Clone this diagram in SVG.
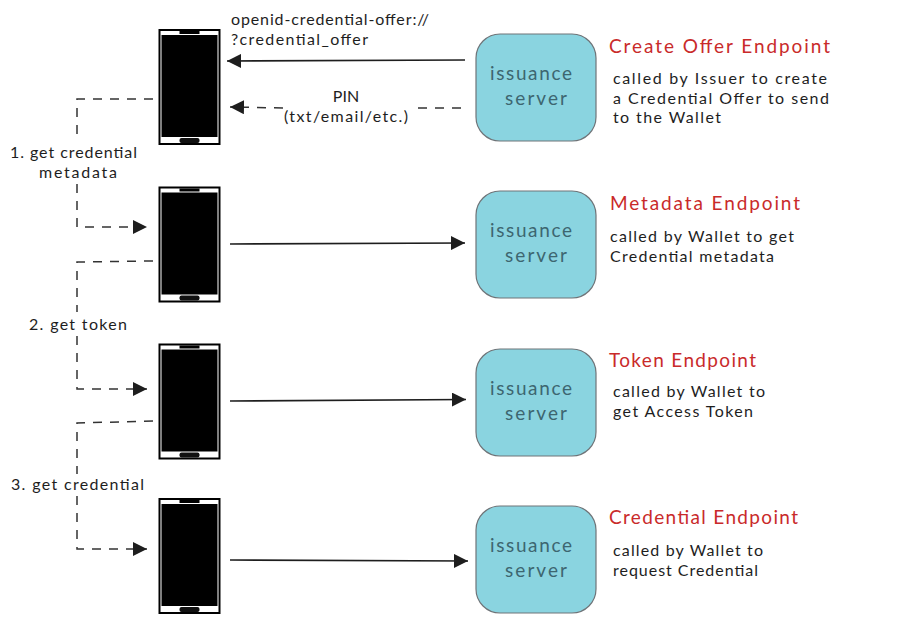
<svg xmlns="http://www.w3.org/2000/svg" width="923" height="623" viewBox="0 0 923 623">
<style>
text{font-family:"Lato","Liberation Sans",sans-serif;font-size:16px;fill:#1e1e1e}
.t{fill:#c92a2a;font-size:19px}
.s{fill:#3d6670;font-size:19px;text-anchor:middle}
.m{text-anchor:middle}
.box{fill:#8ad4e0;stroke:#6f7478;stroke-width:1.2}
.solid{fill:none;stroke:#1e1e1e;stroke-width:1.6}
.dash{fill:none;stroke:#333;stroke-width:1.5;stroke-dasharray:9 8}
.ph{fill:#fff;stroke:#000;stroke-width:2}
</style>
<defs>
<marker id="a" viewBox="0 0 14 14" refX="14" refY="7" markerWidth="14" markerHeight="14" markerUnits="userSpaceOnUse" orient="auto"><path d="M0 0L14 7L0 14Z" fill="#1e1e1e"/></marker>
<g id="phone">
<rect class="ph" x="0" y="0" width="60" height="114"/>
<rect x="2" y="5" width="56" height="102" fill="#000"/>
<rect x="20" y="1" width="20" height="3" fill="#000"/>
<rect x="20" y="108" width="20" height="5" rx="2" fill="#111"/>
</g>
<g id="server">
<rect class="box" x="0" y="0" width="120" height="107" rx="24"/>
<text class="s" x="55" y="46" textLength="82" lengthAdjust="spacing">issuance</text>
<text class="s" x="60" y="71" textLength="62" lengthAdjust="spacing">server</text>
</g>
</defs>

<g id="connectors">
<path class="solid" d="M465 60L227 61" marker-end="url(#a)"/>
<path class="dash" d="M283 108L230 107" marker-end="url(#a)"/>
<path class="dash" d="M461 108L410 108"/>
<path class="solid" d="M230 244L465 243" marker-end="url(#a)"/>
<path class="solid" d="M230 401L466 399.500" marker-end="url(#a)"/>
<path class="solid" d="M230 560L468 561" marker-end="url(#a)"/>
<path class="dash" d="M153 99L77 99V141"/>
<path class="dash" d="M77 184V227H147" marker-end="url(#a)"/>
<path class="dash" d="M153 261L77 262V312"/>
<path class="dash" d="M77 336V389H147" marker-end="url(#a)"/>
<path class="dash" d="M153 421L77 423V474"/>
<path class="dash" d="M77 496V549H147" marker-end="url(#a)"/>
</g>

<g id="phone1"><use href="#phone" x="159.500" y="30"/></g>
<g id="phone2"><use href="#phone" x="159.500" y="187.500"/></g>
<g id="phone3"><use href="#phone" x="159.500" y="344.500"/></g>
<g id="phone4"><use href="#phone" x="159.500" y="499"/></g>

<g id="server1"><use href="#server" x="476" y="34"/></g>
<g id="server2"><use href="#server" x="476" y="191"/></g>
<g id="server3"><use href="#server" x="476" y="349"/></g>
<g id="server4"><use href="#server" x="476" y="506"/></g>

<g id="labels">
<text x="231" y="25" textLength="198" lengthAdjust="spacing">openid-credential-offer://</text>
<text x="231" y="45" textLength="137" lengthAdjust="spacing">?credential_offer</text>
<text class="m" x="346" y="102">PIN</text>
<text class="m" x="346" y="122" textLength="124" lengthAdjust="spacing">(txt/email/etc.)</text>
<text x="10" y="158" textLength="127" lengthAdjust="spacing">1. get credential</text>
<text class="m" x="78" y="178" textLength="78" lengthAdjust="spacing">metadata</text>
<text x="29" y="330" textLength="98" lengthAdjust="spacing">2. get token</text>
<text x="11" y="490" textLength="133" lengthAdjust="spacing">3. get credential</text>
</g>

<g id="descriptions">
<text class="t" x="609" y="53" textLength="221" lengthAdjust="spacing">Create Offer Endpoint</text>
<text x="613" y="84" textLength="214" lengthAdjust="spacing">called by Issuer to create</text>
<text x="613" y="103.500" textLength="216" lengthAdjust="spacing">a Credential Offer to send</text>
<text x="613" y="123" textLength="108" lengthAdjust="spacing">to the Wallet</text>
<text class="t" x="610" y="210" textLength="190" lengthAdjust="spacing">Metadata Endpoint</text>
<text x="610" y="242" textLength="184" lengthAdjust="spacing">called by Wallet to get</text>
<text x="610" y="262" textLength="164" lengthAdjust="spacing">Credential metadata</text>
<text class="t" x="609" y="367" textLength="147" lengthAdjust="spacing">Token Endpoint</text>
<text x="613" y="397" textLength="152" lengthAdjust="spacing">called by Wallet to</text>
<text x="613" y="417" textLength="140" lengthAdjust="spacing">get Access Token</text>
<text class="t" x="609" y="524" textLength="189" lengthAdjust="spacing">Credential Endpoint</text>
<text x="613" y="556" textLength="150" lengthAdjust="spacing">called by Wallet to</text>
<text x="613" y="575.500" textLength="145" lengthAdjust="spacing">request Credential</text>
</g>
</svg>
